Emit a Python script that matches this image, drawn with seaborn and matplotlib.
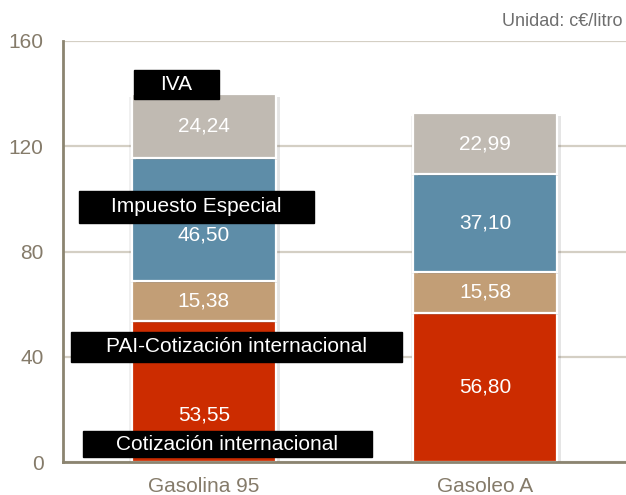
import numpy as np
import pandas as pd
import matplotlib
matplotlib.use("Agg")
import matplotlib.pyplot as plt
import matplotlib.patheffects as pe
import seaborn as sns

# Price breakdown per fuel (c€/litro)
categorias = ["Gasolina 95", "Gasoleo A"]
componentes = ["Cotización internacional", "PAI-Cotización internacional",
               "Impuesto Especial", "IVA"]
cotizacion = [53.55, 56.80]
pai = [15.38, 15.58]
impuesto_especial = [46.50, 37.10]
iva = [24.24, 22.99]
colores = ["#CC2C00", "#C29E76", "#5E8DA8", "#C0BAB2"]
ticks_y = [0, 40, 80, 120, 160]

# value labels nudged down where a caption box sits over the segment centre
desplazamiento = {(0, 0): -9.0, (0, 2): -6.0}

sns.set_theme(style="white")
plt.rcParams["font.family"] = ["Liberation Sans", "DejaVu Sans"]

fig = plt.figure(figsize=(6.26, 4.95), dpi=100)
ax = fig.add_axes([63 / 626, 33 / 495, 563 / 626, 421 / 495])

series = [cotizacion, pai, impuesto_especial, iva]
bottom = np.zeros(len(categorias))
shadow = [pe.SimplePatchShadow(offset=(3, -1.5), shadow_rgbFace="#000000", alpha=0.10),
          pe.SimplePatchShadow(offset=(-2, -1.5), shadow_rgbFace="#000000", alpha=0.06),
          pe.Normal()]
for k, (nombre, vals, color) in enumerate(zip(componentes, series, colores)):
    df = pd.DataFrame({"cat": categorias, "val": vals})
    n_prev = len(ax.patches)
    sns.barplot(data=df, x="cat", y="val", ax=ax, color=color, width=0.51,
                bottom=bottom, edgecolor="white", linewidth=1.6, saturation=1)
    for i, bar in enumerate(ax.patches[n_prev:]):
        bar.set_path_effects(shadow)
        h = bar.get_height()
        y = bar.get_y() + h / 2 + desplazamiento.get((i, k), 0.0)
        ax.text(bar.get_x() + bar.get_width() / 2, y,
                f"{h:.2f}".replace(".", ","), ha="center", va="center",
                color="white", fontsize=15, zorder=5)
    bottom = bottom + np.array(vals)

ax.set_xlim(-0.5, 1.5)
ax.set_ylim(0, 160)
ax.set_yticks(ticks_y)
ax.set_xlabel("")
ax.set_ylabel("")
ax.yaxis.grid(True, color="#D4CFC4", linewidth=1.6)
ax.set_axisbelow(True)
for s in ["top", "right"]:
    ax.spines[s].set_visible(False)
for s in ["left", "bottom"]:
    ax.spines[s].set_color("#8B8470")
    ax.spines[s].set_linewidth(2)
ax.tick_params(axis="both", length=0, labelsize=15, labelcolor="#857B6A")
ax.tick_params(axis="y", pad=14)
ax.tick_params(axis="x", pad=11)

# black series captions
etiquetas = [
    ("IVA", 134, 219, 70, 99),
    ("Impuesto Especial", 79, 314, 191, 223),
    ("PAI-Cotización internacional", 71, 402, 332, 362),
    ("Cotización internacional", 83, 372, 431, 457),
]
for texto, x0, x1, y0, y1 in etiquetas:
    fx0, fx1 = x0 / 626, x1 / 626
    fy0, fy1 = 1 - y1 / 495, 1 - y0 / 495
    fig.patches.append(plt.Rectangle((fx0, fy0), fx1 - fx0, fy1 - fy0,
                                     transform=fig.transFigure, color="black",
                                     zorder=10))
    fig.text((fx0 + fx1) / 2, (fy0 + fy1) / 2, texto, ha="center", va="center",
             color="white", fontsize=15, zorder=11)

fig.text(622 / 626, 1 - 21 / 495, "Unidad: c€/litro", ha="right", va="center",
         color="#6E6E6E", fontsize=13)

fig.savefig("out.png", dpi=100)
